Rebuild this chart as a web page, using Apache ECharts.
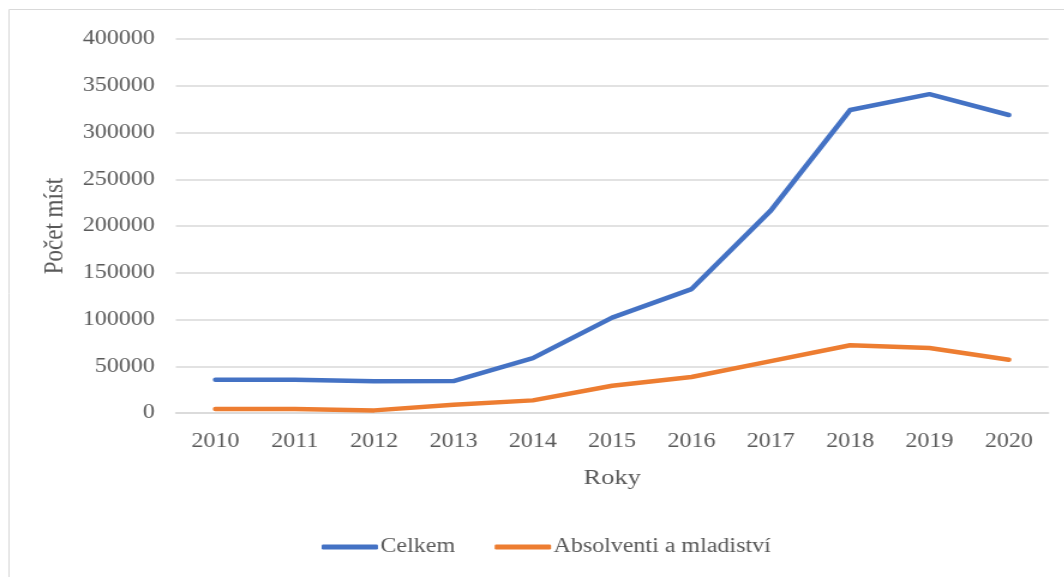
<!DOCTYPE html>
<html><head><meta charset="utf-8">
<script src="https://cdn.jsdelivr.net/npm/echarts@6/dist/echarts.min.js"></script>
<style>html,body{margin:0;padding:0;background:#fff;overflow:hidden}
#c{width:887px;height:577px;transform:scaleX(1.2);transform-origin:0 0}</style>
</head><body><div id="c"></div>
<script>
const years = ['2010','2011','2012','2013','2014','2015','2016','2017','2018','2019','2020'];
const celkem = [35600, 35500, 34000, 34200, 58700, 102000, 132500, 216500, 324000, 341000, 318700];
const absolventi = [4300, 4200, 2800, 8900, 13500, 29200, 38500, 55500, 72500, 69500, 57000];
const yTicks = [0, 50000, 100000, 150000, 200000, 250000, 300000, 350000, 400000];
const seriesNames = ['Celkem', 'Absolventi a mladiství'];

const font = '"Liberation Serif", "Times New Roman", serif';
const txt = '#595959';
const chart = echarts.init(document.getElementById('c'));
chart.setOption({
  animation: false,
  graphic: [{type:'rect', shape:{x:7.5,y:9.5,width:900,height:600}, style:{fill:'none', stroke:'#d9d9d9', lineWidth:1}}],
  grid: {left:146.5, right:13.3, top:39, bottom:164},
  legend: {
    bottom: 15, left: 263, itemWidth: 47, itemHeight: 5, itemGap: 33,
    icon: 'roundRect',
    textStyle: {fontFamily: font, fontSize: 20, color: txt, padding:[0,0,0,-3]},
    data: seriesNames
  },
  xAxis: {
    type:'category', data: years, boundaryGap:true,
    name:'Roky', nameLocation:'middle', nameGap:54,
    nameTextStyle:{fontFamily:font, fontSize:22, color:txt},
    axisLine:{lineStyle:{color:'#d9d9d9', width:1.5}},
    axisTick:{show:false},
    axisLabel:{fontFamily:font, fontSize:20, color:txt, margin:19}
  },
  yAxis: {
    type:'value', min: yTicks[0], max: yTicks[yTicks.length-1], interval: 50000,
    name:'Počet míst', nameLocation:'middle', nameGap:89, nameRotate:90,
    nameTextStyle:{fontFamily:font, fontSize:23, color:txt},
    axisLine:{show:false}, axisTick:{show:false},
    splitLine:{lineStyle:{color:'#d9d9d9', width:1.5}},
    axisLabel:{fontFamily:font, fontSize:20, color:txt, margin:17.5, formatter: v => String(v)}
  },
  series: [
    {name: seriesNames[0], type:'line', data: celkem, symbol:'none', color:'#4472C4',
     lineStyle:{width:4.5, cap:'round', join:'round'}},
    {name: seriesNames[1], type:'line', data: absolventi, symbol:'none', color:'#ED7D31',
     lineStyle:{width:4.5, cap:'round', join:'round'}}
  ]
});
</script></body></html>
